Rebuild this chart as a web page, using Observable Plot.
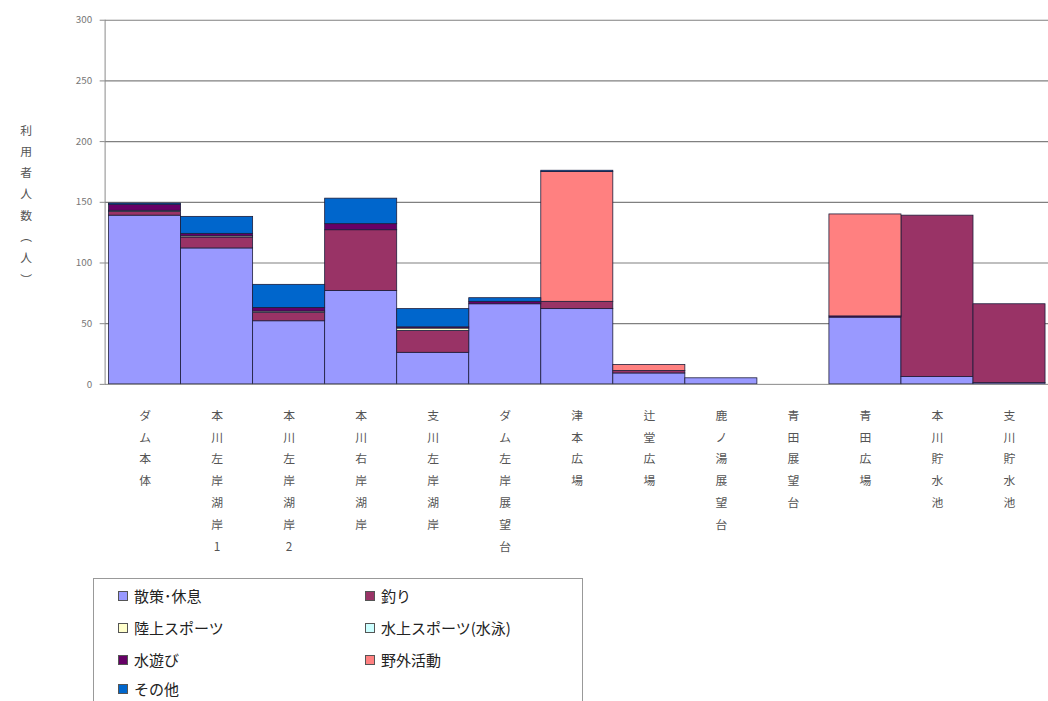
<!DOCTYPE html>
<html><head><meta charset="utf-8">
<script src="https://cdn.jsdelivr.net/npm/d3@7"></script>
<script src="https://cdn.jsdelivr.net/npm/@observablehq/plot@0.6"></script>
<style>
html,body{margin:0;padding:0;background:#fff;overflow:hidden;width:1048px;height:701px;}
#wrap{position:relative;width:1048px;height:701px;font-family:"Noto Sans CJK JP",sans-serif;}
#chart{position:absolute;left:0;top:0;}
#legend{position:absolute;left:93px;top:578px;width:490px;height:140px;border:1px solid #999;box-sizing:border-box;}
.item{position:absolute;font-size:15px;color:#222;line-height:18px;white-space:nowrap;}
.sw{display:inline-block;width:8px;height:8px;border:1px solid #555;margin-right:6px;vertical-align:1px;}
</style></head>
<body><div id="wrap"><div id="chart"></div><div id="legend"></div></div>
<script>
const categories = ["ダム本体","本川左岸湖岸1","本川左岸湖岸2","本川右岸湖岸","支川左岸湖岸","ダム左岸展望台","津本広場","辻堂広場","鹿ノ湯展望台","青田展望台","青田広場","本川貯水池","支川貯水池"];
const seriesNames = ["散策･休息","釣り","陸上スポーツ","水上スポーツ(水泳)","水遊び","野外活動","その他"];
const seriesColors = ["#9999FF","#993366","#FFFFCC","#CCFFFF","#660066","#FF8080","#0066CC"];
const sanpo   = [139,112,52,77,26,66,62,9,5,0,55,6,1];
const tsuri   = [3,9,7,50,18,0,6,2,0,0,0,133,65];
const rikujo  = [1,1,1,0,2,0,0,0,0,0,0,0,0];
const suijo   = [0,0,0,0,0,0,0,0,0,0,0,0,0];
const mizuasobi = [5,2,3,5,1,2,0,0,0,0,1,0,0];
const yagai   = [0,0,0,0,0,0,107,5,0,0,84,0,0];
const sonota  = [1,14,19,21,15,3,1,0,0,0,0,0,0];
const yTicks = [0,50,100,150,200,250,300];
const yLabel = "利用者人数（人）";

const seriesValues = [sanpo,tsuri,rikujo,suijo,mizuasobi,yagai,sonota];
const data = [];
seriesNames.forEach((s,i)=>categories.forEach((c,j)=>data.push({cat:c,series:s,value:seriesValues[i][j]})));

const vert = s => Array.from(s).map(ch => ch==="（"?"︵":ch==="）"?"︶":ch).join("\n");

const chart = Plot.plot({
  width:1062, height:570,
  marginLeft:106, marginRight:0, marginTop:20, marginBottom:181,
  x:{domain:categories, padding:0, axis:null},
  y:{domain:[0,300], ticks:yTicks, label:null, axis:null},
  color:{domain:seriesNames, range:seriesColors},
  style:{fontFamily:"'Noto Sans CJK JP',sans-serif", background:"#fff"},
  marks:[
    Plot.gridY(yTicks.slice(1), {stroke:"#808080", strokeOpacity:1, strokeWidth:1.2}),
    Plot.barY(data, {x:"cat", y:"value", fill:"series", order:seriesNames, stroke:"#1c1c3a", strokeWidth:0.8, inset:0}),
    Plot.ruleY([0], {stroke:"#888"}),
    Plot.frame({anchor:"left", stroke:"#888"}),
    Plot.axisY(yTicks, {tickSize:5, stroke:"#888", fill:"#777", fontSize:10, tickPadding:8, label:null}),
    Plot.text(categories, {x:d=>d, y:0, text:d=>vert(d), lineAnchor:"top", dy:20, lineHeight:1.85, fontSize:12, fill:"#555"}),
    Plot.text([yLabel], {frameAnchor:"left", dx:-86, text:d=>vert(d), lineHeight:1.8, fontSize:12, fill:"#555"})
  ]
});
document.getElementById("chart").appendChild(chart);

const leg = document.getElementById("legend");
const pos = [[24,8],[271,8],[24,40],[271,40],[24,72],[271,72],[24,101]];
seriesNames.forEach((s,i)=>{
  const d = document.createElement("div");
  d.className="item";
  d.style.left = pos[i][0]+"px"; d.style.top = pos[i][1]+"px";
  d.innerHTML = `<span class="sw" style="background:${seriesColors[i]}"></span>${s}`;
  leg.appendChild(d);
});
</script></body></html>
